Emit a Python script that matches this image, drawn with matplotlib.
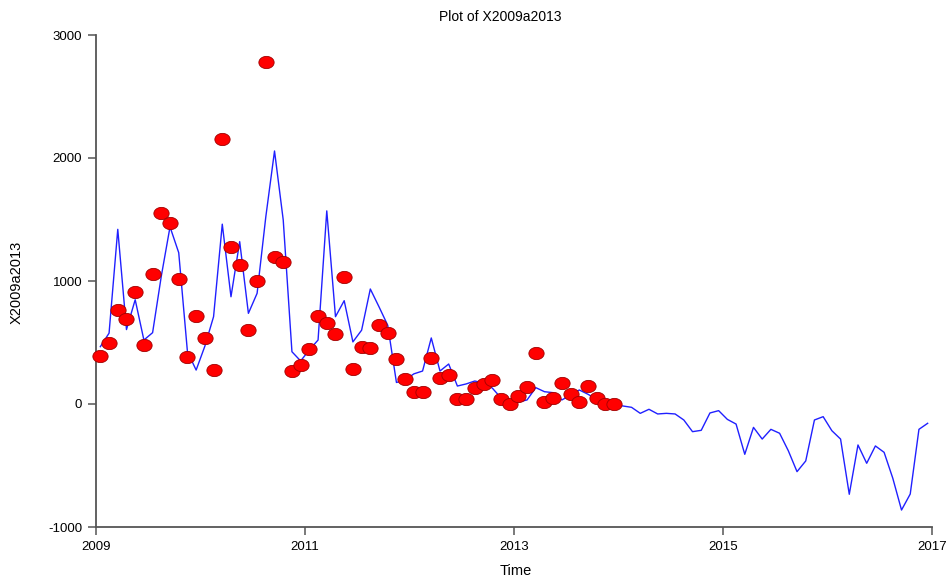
import numpy as np
import matplotlib
matplotlib.use("Agg")
import matplotlib.pyplot as plt
from matplotlib.path import Path

plt.rcParams["font.family"] = ["Liberation Sans", "DejaVu Sans"]

# observed monthly values, Jan 2009 - Dec 2013
OBS_2009 = [390, 499, 764, 689, 908, 480, 1054, 1550, 1469, 1016, 380, 713]
OBS_2010 = [539, 276, 2154, 1274, 1127, 602, 1003, 2783, 1193, 1154, 268, 317]
OBS_2011 = [447, 715, 659, 569, 1035, 287, 466, 455, 642, 580, 366, 203]
OBS_2012 = [98, 98, 371, 214, 236, 41, 41, 127, 160, 195, 38, 0]
OBS_2013 = [68, 141, 412, 16, 46, 168, 79, 14, 146, 46, 0, 0]

# fitted / projected series, Jan 2009 - Dec 2016
FIT_2009 = [466, 576, 1420, 605, 848, 520, 580, 1040, 1440, 1230, 425, 276]
FIT_2010 = [470, 710, 1462, 872, 1320, 737, 900, 1522, 2057, 1496, 425, 350]
FIT_2011 = [440, 520, 1570, 710, 840, 505, 600, 935, 790, 640, 175, 195]
FIT_2012 = [245, 268, 537, 268, 325, 146, 163, 187, 170, 130, 50, 15]
FIT_2013 = [16, 33, 133, 100, 92, 33, 73, 114, 79, 38, 6, -8]
FIT_2014 = [-16, -27, -76, -43, -81, -76, -81, -130, -225, -214, -73, -54]
FIT_2015 = [-125, -163, -409, -190, -285, -206, -238, -380, -550, -463, -130, -103]
FIT_2016 = [-217, -285, -734, -333, -482, -341, -393, -604, -862, -732, -206, -157]

START_YEAR = 2009
X_TICKS = [2009, 2011, 2013, 2015, 2017]
Y_TICKS = [-1000, 0, 1000, 2000, 3000]

obs = np.array(OBS_2009 + OBS_2010 + OBS_2011 + OBS_2012 + OBS_2013, dtype=float)
fit = np.array(FIT_2009 + FIT_2010 + FIT_2011 + FIT_2012 + FIT_2013
               + FIT_2014 + FIT_2015 + FIT_2016, dtype=float)

# monthly time index, points placed mid-month
t_obs = START_YEAR + (np.arange(len(obs)) + 0.5) / 12
t_fit = START_YEAR + (np.arange(len(fit)) + 0.5) / 12

# slightly wide ellipse marker
theta = np.linspace(0, 2 * np.pi, 60)
ellipse = Path(np.column_stack([1.25 * np.cos(theta), np.sin(theta)]), closed=True)

fig = plt.figure(figsize=(9.49, 5.78), dpi=100)
ax = fig.add_axes([96 / 949, 51 / 578, 836 / 949, 492 / 578])

ax.plot(t_fit, fit, color="#2020ff", lw=1.0, zorder=2, clip_on=False)
ax.plot(t_obs, obs, ls="none", marker=ellipse, ms=11, mfc="#ff0000",
        mec="#a00000", mew=0.6, zorder=3, clip_on=False)

ax.set_xlim(2009, 2017)
ax.set_ylim(-1000, 3000)
ax.set_xticks(X_TICKS)
ax.set_yticks(Y_TICKS)
ax.set_xticklabels([str(x) for x in X_TICKS])
ax.set_yticklabels([str(y) for y in Y_TICKS])

for side in ("top", "right"):
    ax.spines[side].set_visible(False)
for side in ("left", "bottom"):
    ax.spines[side].set_color("#555555")
    ax.spines[side].set_linewidth(1.3)
ax.tick_params(direction="out", length=6, width=1.1, color="#555555",
               labelsize=9.5, pad=4)

fig.text(500 / 949, 1 - 17 / 578, "Plot of X2009a2013", ha="center",
         va="center", fontsize=10)
fig.text(516 / 949, 1 - 571 / 578, "Time", ha="center", va="center",
         fontsize=10.5)
fig.text(17 / 949, 1 - 282 / 578, "X2009a2013", ha="center", va="center",
         rotation=90, fontsize=10.5)

fig.savefig("out.png", dpi=100)
